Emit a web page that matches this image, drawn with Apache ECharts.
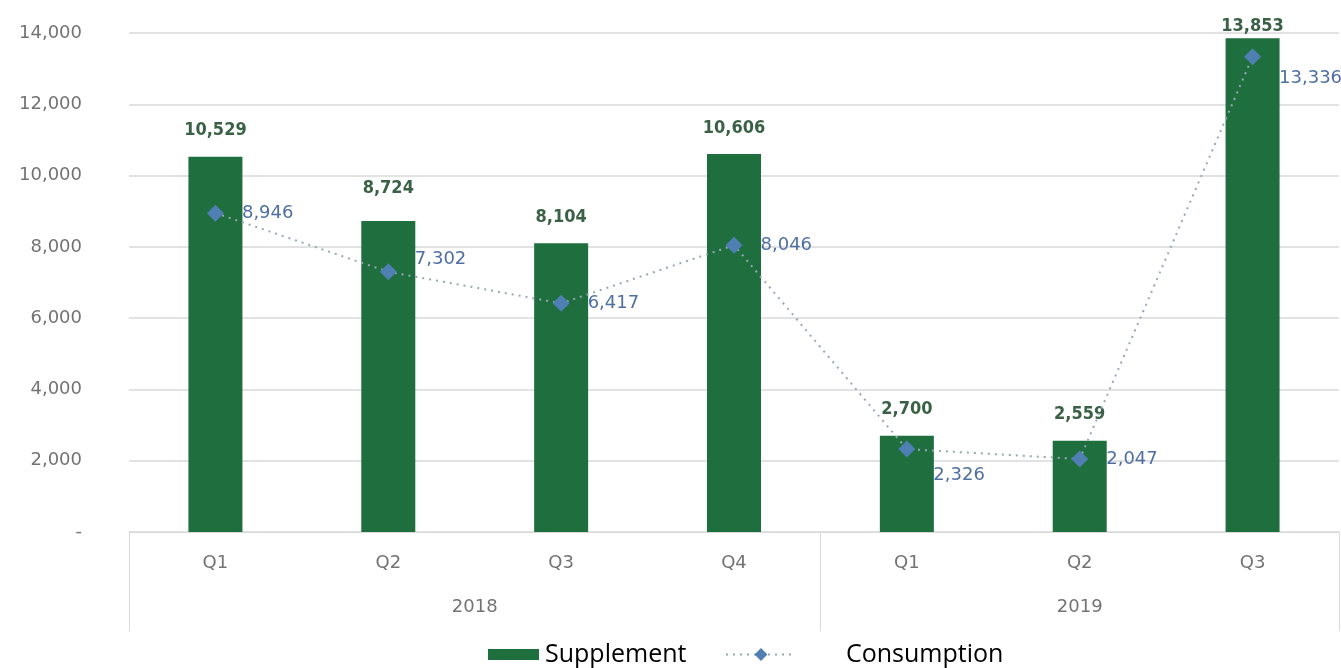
<!DOCTYPE html>
<html><head><meta charset="utf-8">
<script src="https://cdn.jsdelivr.net/npm/echarts@6/dist/echarts.min.js"></script>
<style>html,body{margin:0;padding:0;background:#fff}#c{width:1341px;height:668px}</style>
</head><body><div id="c"></div>
<script>
// ---- data ----
const quarters = ['Q1', 'Q2', 'Q3', 'Q4', 'Q1', 'Q2', 'Q3'];
const years = ['2018', '2019'];
const yearSpans = [4, 3];
const supplement = [10529, 8724, 8104, 10606, 2700, 2559, 13853];
const consumption = [8946, 7302, 6417, 8046, 2326, 2047, 13336];
const yMax = 14000;
const yStep = 2000;

// ---- derived helpers ----
const boundaries = [0];
yearSpans.forEach(s => boundaries.push(boundaries[boundaries.length - 1] + s));
const yearCenters = years.map((y, i) => (boundaries[i] + boundaries[i + 1]) / 2);

const axisFont = 'DejaVu Sans';
const axisColor = '#737373';
const gridColor = '#d9d9d9';

// label tweaks (style only)
const barLabelDistance = { 1: 24, 6: 3 };
const lineLabelOffset = { 1: [0, -12], 4: [0, 26], 6: [0, 22] };

const chart = echarts.init(document.getElementById('c'), null, { renderer: 'canvas' });
chart.setOption({
  animation: false,
  backgroundColor: '#ffffff',
  grid: { left: 129, right: 2, top: 33, bottom: 136, containLabel: false },
  legend: [
    {
      left: 488, top: 642, padding: 0, itemWidth: 51, itemHeight: 11,
      data: [{ name: 'Supplement', icon: 'rect' }],
      textStyle: { fontFamily: 'Open Sans', fontSize: 25, color: '#000', padding: [0, 0, 0, 1] }
    },
    {
      left: 725, top: 642, padding: 0, itemWidth: 70, itemHeight: 16,
      data: ['Consumption'],
      textStyle: { fontFamily: 'Open Sans', fontSize: 25, color: '#000', padding: [0, 0, 0, 45] }
    }
  ],
  xAxis: [
    {
      type: 'category', data: quarters, boundaryGap: true,
      axisLine: { show: true, lineStyle: { color: gridColor, width: 1 } },
      axisTick: { show: false },
      axisLabel: { fontFamily: axisFont, fontSize: 18, color: axisColor, margin: 22 }
    },
    {
      type: 'value', min: 0, max: boundaries[boundaries.length - 1], position: 'bottom',
      axisLine: { show: false },
      splitLine: { show: false },
      axisTick: { show: true, customValues: boundaries, length: 99, lineStyle: { color: gridColor, width: 1 } },
      axisLabel: {
        customValues: yearCenters, margin: 66,
        fontFamily: axisFont, fontSize: 18, color: axisColor,
        formatter: v => years[yearCenters.indexOf(v)]
      }
    }
  ],
  yAxis: {
    type: 'value', min: 0, max: yMax, interval: yStep,
    axisLine: { show: false }, axisTick: { show: false },
    splitLine: { lineStyle: { color: gridColor, width: 1.5 } },
    axisLabel: {
      fontFamily: axisFont, fontSize: 18, color: axisColor, margin: 47,
      formatter: v => v === 0 ? '-' : v.toLocaleString('en-US')
    }
  },
  series: [
    {
      name: 'Supplement', type: 'bar', xAxisIndex: 0, barWidth: 54,
      itemStyle: { color: '#1f6f3e' },
      data: supplement.map((v, i) => barLabelDistance[i] !== undefined
        ? { value: v, label: { distance: barLabelDistance[i] } } : v),
      label: {
        show: true, position: 'top', distance: 17,
        fontFamily: 'DejaVu Sans Condensed, DejaVu Sans', fontSize: 18, fontWeight: 'bold', color: '#3a6145',
        formatter: p => p.value.toLocaleString('en-US')
      },
      z: 2
    },
    {
      name: 'Consumption', type: 'line', xAxisIndex: 0,
      symbol: 'diamond', symbolSize: 17,
      itemStyle: { color: '#4f7fb3' },
      lineStyle: { color: '#9aa6b6', width: 2, type: [2, 5] },
      data: consumption.map((v, i) => lineLabelOffset[i] !== undefined
        ? { value: v, label: { offset: lineLabelOffset[i] } } : v),
      label: {
        show: true, position: 'right', distance: 18,
        fontFamily: axisFont, fontSize: 18, color: '#4f6fa3',
        formatter: p => p.value.toLocaleString('en-US')
      },
      z: 5
    }
  ]
});
</script>
</body></html>
